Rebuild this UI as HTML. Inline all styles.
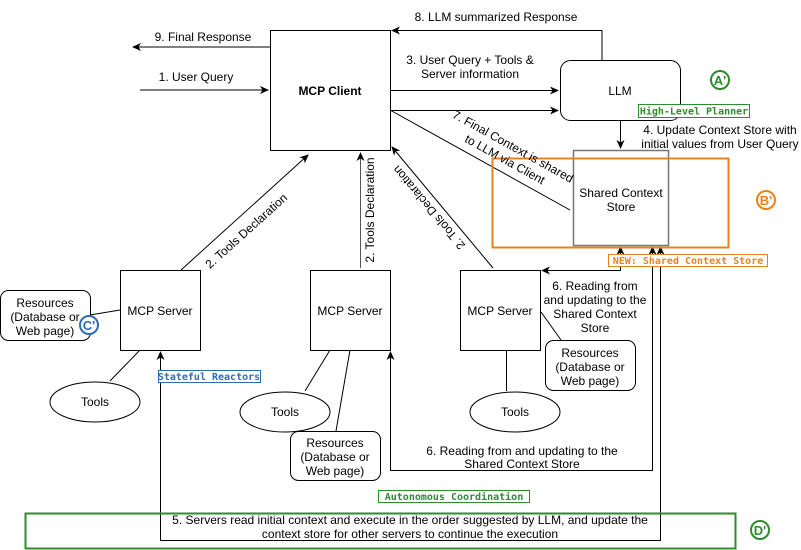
<!DOCTYPE html>
<html><head><meta charset="utf-8"><style>
html,body{margin:0;padding:0;background:#fff;}
svg{display:block;font-family:"Liberation Sans",Arial,sans-serif;}
.t{font-size:12px;fill:#000;}
.m{font-family:"DejaVu Sans Mono","Liberation Mono",monospace;font-weight:bold;font-size:10px;}
</style></head><body>
<svg width="801" height="550" viewBox="0 0 801 550" xmlns="http://www.w3.org/2000/svg">
<defs>
<marker id="a" markerWidth="10" markerHeight="10" refX="8" refY="5" orient="auto" markerUnits="userSpaceOnUse">
<path d="M0,1 L9,5 L0,9 L2.5,5 Z" fill="#000"/></marker>
</defs>
<g stroke="#000" stroke-width="1" fill="none">
<rect x="270.5" y="30.5" width="120" height="120" fill="#fff"/>
<line x1="270" y1="47" x2="133" y2="47" marker-end="url(#a)"/>
<line x1="140" y1="90" x2="268" y2="90" marker-end="url(#a)"/>
<polyline points="602,60 602,30.5 392,30.5" marker-end="url(#a)"/>
<line x1="390" y1="90.5" x2="558" y2="90.5" marker-end="url(#a)"/>
<line x1="390" y1="110.5" x2="558" y2="110.5" marker-end="url(#a)"/>
<rect x="560.5" y="60.5" width="120" height="60" rx="10" fill="#fff"/>
<line x1="620.5" y1="120" x2="620.5" y2="148" marker-end="url(#a)"/>
<rect x="573.5" y="150.5" width="95" height="95" stroke="#777" stroke-width="1.5"/>
<line x1="390" y1="110" x2="570" y2="210"/>
<line x1="181" y1="270" x2="308" y2="155" marker-end="url(#a)"/>
<line x1="360.5" y1="268" x2="360.5" y2="153" marker-end="url(#a)" stroke="#555"/>
<line x1="493" y1="268" x2="392" y2="147" marker-end="url(#a)"/>
<rect x="120.5" y="270.5" width="80" height="80" fill="#fff"/>
<rect x="310.5" y="270.5" width="80" height="80" fill="#fff"/>
<rect x="460.5" y="270.5" width="80" height="80" fill="#fff"/>
<rect x="0.5" y="290.5" width="90" height="50" rx="8" fill="#fff"/>
<line x1="90" y1="315" x2="120" y2="310"/>
<ellipse cx="95" cy="402" rx="45" ry="20"/>
<line x1="140" y1="350" x2="110" y2="381"/>
<ellipse cx="285" cy="412" rx="45" ry="20"/>
<line x1="330" y1="350" x2="305" y2="391"/>
<rect x="290.5" y="431.5" width="90" height="49" rx="8" fill="#fff"/>
<line x1="350" y1="350" x2="336" y2="431"/>
<line x1="506.5" y1="350" x2="506.5" y2="391"/>
<ellipse cx="515" cy="412" rx="45" ry="20"/>
<rect x="545.5" y="340.5" width="90" height="50" rx="8" fill="#fff"/>
<line x1="541" y1="312" x2="561" y2="340"/>
<polyline points="620.5,247 620.5,270.5 542,270.5" marker-end="url(#a)"/>
<line x1="620.5" y1="262" x2="620.5" y2="247" marker-end="url(#a)"/>
<polyline points="652.5,258 652.5,470.5 390.5,470.5 390.5,352" marker-end="url(#a)"/>
<line x1="652.5" y1="262" x2="652.5" y2="247" marker-end="url(#a)"/>
<polyline points="660.5,258 660.5,540.5 160.5,540.5 160.5,352" marker-end="url(#a)"/>
<line x1="660.5" y1="262" x2="660.5" y2="247" marker-end="url(#a)"/>
</g>
<rect x="492.5" y="158.5" width="236" height="89" fill="none" stroke="#e8821e" stroke-width="2"/>
<rect x="25.5" y="513.5" width="710" height="35" fill="none" stroke="#2e8b2e" stroke-width="2"/>
<g class="t" text-anchor="middle">
<text x="330" y="95" font-weight="bold">MCP Client</text>
<text x="203" y="41">9. Final Response</text>
<text x="196" y="81">1. User Query</text>
<text x="496" y="21">8. LLM summarized Response</text>
<text x="470" y="64">3. User Query + Tools &amp;</text>
<text x="470" y="78">Server information</text>
<text x="620" y="95">LLM</text>
<text x="720" y="134">4. Update Context Store with</text>
<text x="720" y="148">initial values from User Query</text>
<text x="621" y="197">Shared Context</text>
<text x="621" y="211">Store</text>
<text transform="translate(511,150) rotate(29)">7. Final Context is shared</text>
<text transform="translate(503,163) rotate(29)">to LLM via Client</text>
<text transform="translate(249,234) rotate(-42)">2. Tools Declaration</text>
<text transform="translate(374,210) rotate(-90)">2. Tools Declaration</text>
<text transform="translate(432,205) rotate(-130)">2. Tools Declaration</text>
<text x="160" y="315">MCP Server</text>
<text x="350" y="315">MCP Server</text>
<text x="500" y="315">MCP Server</text>
<text x="45" y="307">Resources</text>
<text x="45" y="321">(Database or</text>
<text x="45" y="335">Web page)</text>
<text x="95" y="406">Tools</text>
<text x="285" y="416">Tools</text>
<text x="335" y="447">Resources</text>
<text x="335" y="461">(Database or</text>
<text x="335" y="475">Web page)</text>
<text x="515" y="416">Tools</text>
<text x="590" y="357">Resources</text>
<text x="590" y="371">(Database or</text>
<text x="590" y="385">Web page)</text>
<text x="595" y="290">6. Reading from</text>
<text x="595" y="304">and updating to the</text>
<text x="595" y="318">Shared Context</text>
<text x="595" y="332">Store</text>
<text x="522" y="455">6. Reading from and updating to the</text>
<text x="522" y="468">Shared Context Store</text>
<text x="410" y="524">5. Servers read initial context and execute in the order suggested by LLM, and update the</text>
<text x="410" y="538">context store for other servers to continue the execution</text>
</g>
<rect x="638.5" y="104.5" width="111" height="13" fill="#fff" stroke="#2e8b2e"/>
<text x="694" y="114.5" class="m" fill="#2e8b2e" text-anchor="middle">High-Level Planner</text>
<rect x="608.5" y="254.5" width="159" height="12" fill="#fff" stroke="#e8821e"/>
<text x="688" y="264" class="m" fill="#e8821e" text-anchor="middle">NEW: Shared Context Store</text>
<rect x="158.5" y="370.5" width="102" height="12" fill="#fff" stroke="#2d6db5"/>
<text x="209" y="380" class="m" fill="#2d6db5" text-anchor="middle">Stateful Reactors</text>
<rect x="378.5" y="490.5" width="151" height="12" fill="#fff" stroke="#2e8b2e"/>
<text x="454" y="500" class="m" fill="#2e8b2e" text-anchor="middle">Autonomous Coordination</text>
<circle cx="720" cy="80" r="9" fill="#fff" stroke="#2e8b2e" stroke-width="2"/>
<text x="720" y="85" font-size="13" font-weight="bold" fill="#2e8b2e" text-anchor="middle">A'</text>
<circle cx="766" cy="200" r="9" fill="#fff" stroke="#e8821e" stroke-width="2"/>
<text x="766" y="205" font-size="13" font-weight="bold" fill="#e8821e" text-anchor="middle">B'</text>
<circle cx="89" cy="325" r="9" fill="#fff" stroke="#2d6db5" stroke-width="2"/>
<text x="89" y="330" font-size="13" font-weight="bold" fill="#2d6db5" text-anchor="middle">C'</text>
<circle cx="760" cy="530" r="9" fill="#fff" stroke="#2e8b2e" stroke-width="2"/>
<text x="760" y="535" font-size="13" font-weight="bold" fill="#2e8b2e" text-anchor="middle">D'</text>
</svg>
</body></html>
